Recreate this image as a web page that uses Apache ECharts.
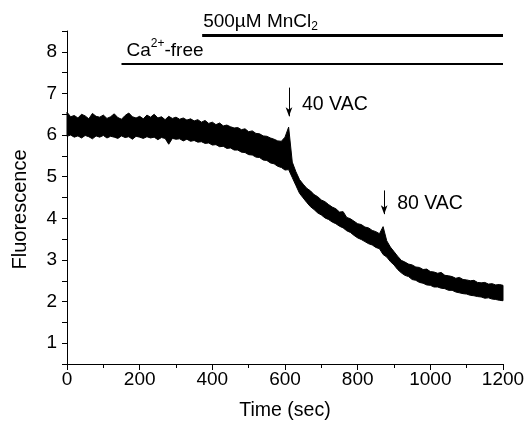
<!DOCTYPE html>
<html>
<head>
<meta charset="utf-8">
<script src="https://cdn.jsdelivr.net/npm/echarts@6/dist/echarts.min.js"></script>
<style>
html, body { margin: 0; padding: 0; background: #fff; }
#chart { width: 531px; height: 430px; }
</style>
</head>
<body>
<div id="chart"></div>
<script>
// time points of the recorded trace (sec)
var time = [0,10,20,30,40,50,60,70,80,90,100,110,120,130,140,150,160,170,180,190,
  200,210,220,230,240,250,260,270,280,290,300,310,320,330,340,350,360,370,380,390,
  400,410,420,430,440,450,460,470,480,490,500,510,520,530,540,550,560,570,580,590,
  600,610,620,630,640,650,660,670,680,690,700,710,720,730,740,750,760,770,780,790,
  800,810,820,830,840,850,860,870,880,890,900,910,920,930,940,950,960,970,980,990,
  1000,1010,1020,1030,1040,1050,1060,1070,1080,1090,1100,1110,1120,1130,1140,1150,1160,1170,1180,1190,1200];

// upper edge of the noisy fluorescence band
var upper = [6.55,6.44,6.47,6.41,6.5,6.46,6.39,6.52,6.45,6.43,
  6.48,6.4,6.44,6.51,6.42,6.38,6.47,6.53,6.44,6.41,
  6.45,6.39,6.48,6.43,6.5,6.41,6.44,6.37,6.45,6.4,
  6.43,6.38,6.41,6.36,6.39,6.34,6.37,6.31,6.35,6.28,
  6.31,6.25,6.29,6.22,6.24,6.2,6.17,6.18,6.13,6.15,
  6.08,6.1,6.04,6.03,5.98,5.97,5.93,5.9,5.86,5.85,
  5.95,6.19,5.35,5.12,4.93,4.82,4.72,4.66,4.57,4.52,
  4.44,4.4,4.33,4.27,4.23,4.15,4.16,4.02,3.99,3.93,
  3.87,3.85,3.79,3.77,3.71,3.68,3.63,3.8,3.46,3.31,
  3.2,3.09,2.99,2.95,2.9,2.88,2.83,2.82,2.77,2.78,
  2.72,2.71,2.68,2.7,2.63,2.62,2.6,2.56,2.58,2.53,
  2.52,2.5,2.51,2.46,2.45,2.46,2.42,2.43,2.4,2.41,2.39];

// lower edge of the noisy fluorescence band
var lower = [5.97,6.0,5.95,5.98,5.93,5.99,5.96,5.91,5.98,5.95,
  5.99,5.93,5.97,5.95,5.92,5.98,5.94,5.96,5.9,5.97,
  5.95,5.92,5.96,5.93,5.95,5.89,5.94,5.92,5.78,5.92,
  5.9,5.91,5.86,5.9,5.85,5.87,5.83,5.84,5.8,5.81,
  5.76,5.77,5.72,5.73,5.68,5.69,5.64,5.64,5.59,5.58,
  5.53,5.52,5.47,5.46,5.4,5.39,5.33,5.31,5.25,5.22,
  5.16,5.17,4.98,4.79,4.6,4.49,4.38,4.28,4.21,4.13,
  4.08,4.01,3.97,3.91,3.87,3.81,3.77,3.7,3.66,3.59,
  3.53,3.49,3.44,3.39,3.36,3.3,3.27,3.13,3.07,2.96,
  2.88,2.77,2.69,2.63,2.6,2.53,2.51,2.46,2.44,2.4,
  2.39,2.35,2.35,2.32,2.31,2.27,2.27,2.23,2.21,2.19,
  2.18,2.15,2.14,2.12,2.11,2.08,2.09,2.06,2.05,2.03,2.02];

// treatment bars: [start time, end time, level]
var mnBar = [372, 1200, 8.39];
var caBar = [150, 1200, 7.71];
// stimulus arrows: [time, top, bottom, label level, label]
var stim = [
  [611, 7.14, 6.45, 6.74, '40 VAC'],
  [873, 4.67, 4.10, 4.36, '80 VAC']
];

var FONT = 'Liberation Sans';

// trace table: [time, lower, upper]
var traceData = [];
for (var i = 0; i < time.length; i++) {
  traceData.push([time[i], lower[i], upper[i]]);
}

var markLines = [
  [{ coord: [mnBar[0], mnBar[2]], lineStyle: { width: 3 },
     label: { show: true, position: 'insideStartTop', distance: [1, 3],
              formatter: '500µM MnCl{sub|2}' } },
   { coord: [mnBar[1], mnBar[2]] }],
  [{ coord: [caBar[0], caBar[2]], lineStyle: { width: 2 },
     label: { show: true, position: 'insideStartTop', distance: [5, 1],
              formatter: 'Ca{sup|2+}-free' } },
   { coord: [caBar[1], caBar[2]] }]
];
var markPoints = [];
stim.forEach(function (s) {
  markLines.push([
    { coord: [s[0], s[1]], symbol: 'none', lineStyle: { width: 1 }, label: { show: false } },
    { coord: [s[0], s[2]], symbol: 'arrow', symbolSize: [5, 9] }
  ]);
  markPoints.push({ coord: [s[0], s[3]], value: s[4] });
});

// noisy band drawn as one polygon: upper edge forward, lower edge back
function renderBand(params, api) {
  if (params.dataIndex !== 0) return;
  var pts = [];
  for (var i = 0; i < traceData.length; i++) {
    pts.push(api.coord([traceData[i][0], traceData[i][2]]));
  }
  for (var j = traceData.length - 1; j >= 0; j--) {
    pts.push(api.coord([traceData[j][0], traceData[j][1]]));
  }
  return {
    type: 'polygon',
    shape: { points: pts },
    style: { fill: '#000', stroke: '#000', lineWidth: 1 }
  };
}

var chart = echarts.init(document.getElementById('chart'));
chart.setOption({
  animation: false,
  backgroundColor: '#fff',
  textStyle: { fontFamily: FONT, color: '#000' },
  grid: { left: 67, right: 28, top: 31, bottom: 66 },
  xAxis: {
    type: 'value', min: 0, max: 1200, interval: 200,
    name: 'Time (sec)', nameLocation: 'middle', nameGap: 37,
    nameTextStyle: { fontSize: 19.5, color: '#000', fontFamily: FONT },
    axisLine: { lineStyle: { color: '#000', width: 1 } },
    axisTick: { length: 6, lineStyle: { color: '#000' } },
    minorTick: { show: true, splitNumber: 2, length: 4, lineStyle: { color: '#000' } },
    axisLabel: { fontSize: 19, color: '#000', margin: 6, fontFamily: FONT,
                 formatter: function (v) { return String(v); } },
    splitLine: { show: false }
  },
  yAxis: {
    type: 'value', min: 0.5, max: 8.5, interval: 0.5,
    name: 'Fluorescence', nameLocation: 'middle', nameGap: 37,
    nameTextStyle: { fontSize: 20, color: '#000', fontFamily: FONT, padding: [0, 24, 0, 0] },
    axisLine: { show: true, lineStyle: { color: '#000', width: 1 } },
    axisTick: { length: 5, lineStyle: { color: '#000' } },
    axisLabel: {
      fontSize: 19, color: '#000', margin: 10, fontFamily: FONT,
      formatter: function (v) { return Number.isInteger(v) ? String(v) : ''; }
    },
    splitLine: { show: false }
  },
  series: [
    {
      type: 'custom', data: traceData,
      encode: { x: 0, y: [1, 2] },
      renderItem: renderBand
    },
    {
      type: 'line', data: [], symbol: 'none',
      markLine: {
        silent: true, symbol: ['none', 'none'],
        lineStyle: { color: '#000', type: 'solid' },
        label: {
          color: '#000', fontSize: 19, fontFamily: FONT,
          rich: {
            sub: { fontSize: 12, verticalAlign: 'bottom', padding: [10, 0, 0, 0] },
            sup: { fontSize: 12, verticalAlign: 'top', padding: [0, 0, 13, 0] }
          }
        },
        data: markLines
      },
      markPoint: {
        silent: true, symbol: 'circle', symbolSize: 0,
        label: { show: true, position: 'right', distance: 13, color: '#000',
                 fontSize: 19.5, fontFamily: FONT,
                 formatter: function (p) { return p.value; } },
        data: markPoints
      }
    }
  ]
});
</script>
</body>
</html>
